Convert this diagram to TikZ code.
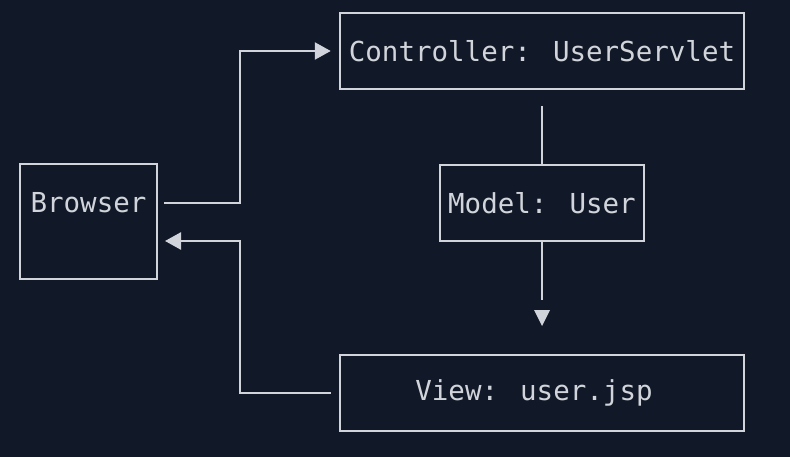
\documentclass[tikz,border=0pt]{standalone}
\usepackage{fontspec}
\newfontfamily\monofam{DejaVu Sans Mono}
\usetikzlibrary{arrows.meta}
\definecolor{bgc}{HTML}{111827}
\definecolor{fgc}{HTML}{D1D5DB}
\begin{document}
\begin{tikzpicture}[x=1pt,y=-1pt,
  box/.style={draw=fgc, line width=2.5pt, inner sep=0pt, text=fgc,
    font=\monofam\fontsize{27.5}{32}\selectfont},
  txt/.style={inner sep=0pt, text=fgc, font=\monofam\fontsize{27.5}{32}\selectfont},
  wire/.style={draw=fgc, line width=2.5pt},
  arr/.style={wire, -{Triangle[length=16pt,width=17pt]}}]
\fill[bgc] (0,0) rectangle (790,457);
\useasboundingbox (0,0) rectangle (790,457);
\node[box, minimum width=137pt, minimum height=115pt] (browser) at (88.5,221.5) {};
\node[txt] (browserlabel) at (88.5,203) {Browser};
\node[box, minimum width=404pt, minimum height=76pt] (ctrl) at (542,51) {Controller: UserServlet};
\node[box, minimum width=204pt, minimum height=76pt] (model) at (542,203) {Model: User};
\node[box, minimum width=404pt, minimum height=76pt] (view) at (542,393) {View: user.jsp\rule{16pt}{0pt}};
\coordinate (b1) at (157,203);
\coordinate (j1) at (240,203);
\coordinate (j2) at (240,393);
\coordinate (b2) at (157,241);
\coordinate (ctop) at (542,106);
\coordinate (mend) at (542,300);
\coordinate (tipl) at (534,310);
\coordinate (tipr) at (550,310);
\coordinate (tip) at (542,326);
\draw[arr, shorten <=7pt, shorten >=8pt] (b1) -- (j1) |- (ctrl.west);
\draw[arr, shorten <=8pt, shorten >=8pt] (view.west) -- (j2) |- (b2);
\draw[wire] (ctop) -- (model.north);
\draw[wire] (model.south) -- (mend);
\fill[fgc] (tipl) -- (tipr) -- (tip) -- cycle;
\end{tikzpicture}
\end{document}
